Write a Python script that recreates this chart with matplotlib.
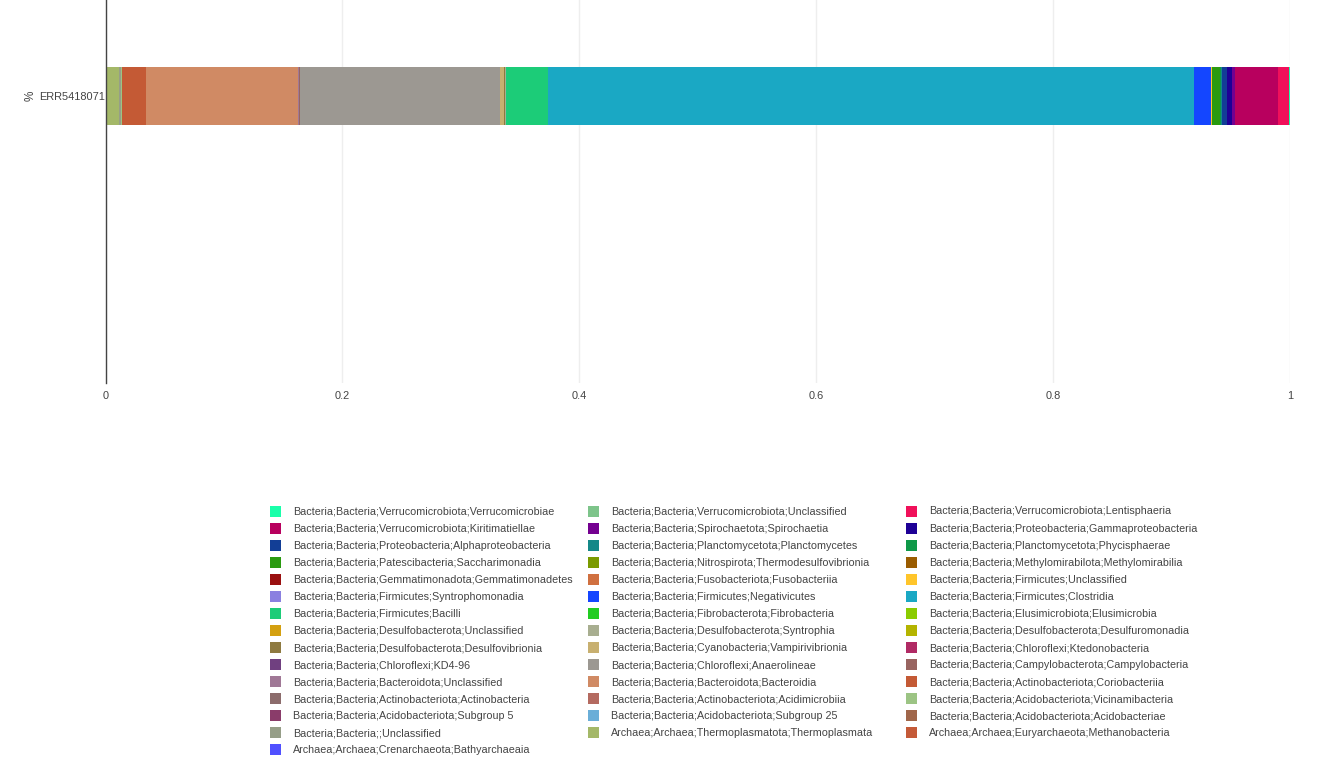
import matplotlib
matplotlib.use("Agg")
import matplotlib.pyplot as plt
from matplotlib.patches import Rectangle

plt.rcParams['font.family'] = ['Liberation Sans', 'DejaVu Sans']

sample = "ERR5418071"

# legend order (row-major, 3 columns)
taxa = [
    "Bacteria;Bacteria;Verrucomicrobiota;Verrucomicrobiae",
    "Bacteria;Bacteria;Verrucomicrobiota;Unclassified",
    "Bacteria;Bacteria;Verrucomicrobiota;Lentisphaeria",
    "Bacteria;Bacteria;Verrucomicrobiota;Kiritimatiellae",
    "Bacteria;Bacteria;Spirochaetota;Spirochaetia",
    "Bacteria;Bacteria;Proteobacteria;Gammaproteobacteria",
    "Bacteria;Bacteria;Proteobacteria;Alphaproteobacteria",
    "Bacteria;Bacteria;Planctomycetota;Planctomycetes",
    "Bacteria;Bacteria;Planctomycetota;Phycisphaerae",
    "Bacteria;Bacteria;Patescibacteria;Saccharimonadia",
    "Bacteria;Bacteria;Nitrospirota;Thermodesulfovibrionia",
    "Bacteria;Bacteria;Methylomirabilota;Methylomirabilia",
    "Bacteria;Bacteria;Gemmatimonadota;Gemmatimonadetes",
    "Bacteria;Bacteria;Fusobacteriota;Fusobacteriia",
    "Bacteria;Bacteria;Firmicutes;Unclassified",
    "Bacteria;Bacteria;Firmicutes;Syntrophomonadia",
    "Bacteria;Bacteria;Firmicutes;Negativicutes",
    "Bacteria;Bacteria;Firmicutes;Clostridia",
    "Bacteria;Bacteria;Firmicutes;Bacilli",
    "Bacteria;Bacteria;Fibrobacterota;Fibrobacteria",
    "Bacteria;Bacteria;Elusimicrobiota;Elusimicrobia",
    "Bacteria;Bacteria;Desulfobacterota;Unclassified",
    "Bacteria;Bacteria;Desulfobacterota;Syntrophia",
    "Bacteria;Bacteria;Desulfobacterota;Desulfuromonadia",
    "Bacteria;Bacteria;Desulfobacterota;Desulfovibrionia",
    "Bacteria;Bacteria;Cyanobacteria;Vampirivibrionia",
    "Bacteria;Bacteria;Chloroflexi;Ktedonobacteria",
    "Bacteria;Bacteria;Chloroflexi;KD4-96",
    "Bacteria;Bacteria;Chloroflexi;Anaerolineae",
    "Bacteria;Bacteria;Campylobacterota;Campylobacteria",
    "Bacteria;Bacteria;Bacteroidota;Unclassified",
    "Bacteria;Bacteria;Bacteroidota;Bacteroidia",
    "Bacteria;Bacteria;Actinobacteriota;Coriobacteriia",
    "Bacteria;Bacteria;Actinobacteriota;Actinobacteria",
    "Bacteria;Bacteria;Actinobacteriota;Acidimicrobiia",
    "Bacteria;Bacteria;Acidobacteriota;Vicinamibacteria",
    "Bacteria;Bacteria;Acidobacteriota;Subgroup 5",
    "Bacteria;Bacteria;Acidobacteriota;Subgroup 25",
    "Bacteria;Bacteria;Acidobacteriota;Acidobacteriae",
    "Bacteria;Bacteria;;Unclassified",
    "Archaea;Archaea;Thermoplasmatota;Thermoplasmata",
    "Archaea;Archaea;Euryarchaeota;Methanobacteria",
    "Archaea;Archaea;Crenarchaeota;Bathyarchaeaia",
]

values = [
    0.0008, 0.0002, 0.0093, 0.0363, 0.0025, 0.0042, 0.0042, 0.0012, 0.0005,
    0.0068, 0.0001, 0.0001, 0.0001, 0.0001, 0.0001, 0.0001, 0.0144, 0.5453,
    0.0358, 0.0001, 0.0001, 0.0001, 0.0002, 0.0001, 0.0010, 0.0031, 0.0001,
    0.0001, 0.1688, 0.0008, 0.0015, 0.1283, 0.0200, 0.0001, 0.0001, 0.0001,
    0.0001, 0.0001, 0.0001, 0.0014, 0.0104, 0.0013, 0.0001,
]

colors = [
    "#1affaa", "#7dc48a", "#f0105a", "#b8005e", "#740090", "#1e0096",
    "#123e96", "#148888", "#0e9848", "#2a9a10", "#7a9a00", "#9a5c00",
    "#9a1010", "#d07040", "#ffc52a", "#8a80e0", "#1446ff", "#1aa8c4",
    "#1ccc78", "#22cc22", "#8acc00", "#d4a010", "#a8ae90", "#b4b400",
    "#8e7a40", "#c8b070", "#b02a64", "#704080", "#9c9892", "#986460",
    "#a07896", "#d08a64", "#c45a35", "#8c6c6c", "#b46a60", "#9cc484",
    "#8a3c6a", "#6aaed8", "#a0664a", "#969e88", "#a4b868", "#c45a38",
    "#5050ff",
]

W, H = 1320, 763
fig = plt.figure(figsize=(W / 100, H / 100), dpi=100)
ax = fig.add_axes([105.5 / W, (H - 383) / H, (1290 - 105.5) / W, 383 / H])

# stack from the last legend entry to the first
left = 0.0
for name, v, c in zip(taxa[::-1], values[::-1], colors[::-1]):
    ax.barh([0], [v], left=left, height=58, color=c, linewidth=0)
    left += v

ax.set_xlim(0, 1)
ax.set_ylim(-287, 96)
ax.set_xticks([0, 0.2, 0.4, 0.6, 0.8, 1])
ax.set_xticklabels(["0", "0.2", "0.4", "0.6", "0.8", "1"])
ax.set_yticks([0])
ax.set_yticklabels([sample])
ax.tick_params(axis='both', length=0, labelsize=7.9, colors="#444444")
ax.tick_params(axis='x', pad=6)
ax.tick_params(axis='y', pad=0.5)
ax.grid(axis='x', color="#eeeeee", linewidth=1)
ax.set_axisbelow(True)
for s in ["top", "right", "bottom"]:
    ax.spines[s].set_visible(False)
ax.spines["left"].set_color("#444444")
ax.spines["left"].set_linewidth(1)
ax.set_ylabel("%", fontsize=8.5, color="#444444")
ax.yaxis.set_label_coords((37 - 105.5) / 1184.5, (383 - 96) / 383)

# legend, row-major 3 columns
col_sq = [270, 588, 906]
col_tx = [293, 611, 929]
y0, dy = 511, 17.07
for i, (name, c) in enumerate(zip(taxa, colors)):
    r, k = divmod(i, 3)
    yc = y0 + r * dy
    fig.patches.append(Rectangle((col_sq[k] / W, (H - yc - 5.5) / H), 11 / W, 11 / H,
                                 transform=fig.transFigure, color=c, linewidth=0))
    fig.text(col_tx[k] / W, (H - yc - 0.5) / H, name, fontsize=7.73, color="#444444",
             ha="left", va="center")

fig.savefig("out.png", dpi=100)
